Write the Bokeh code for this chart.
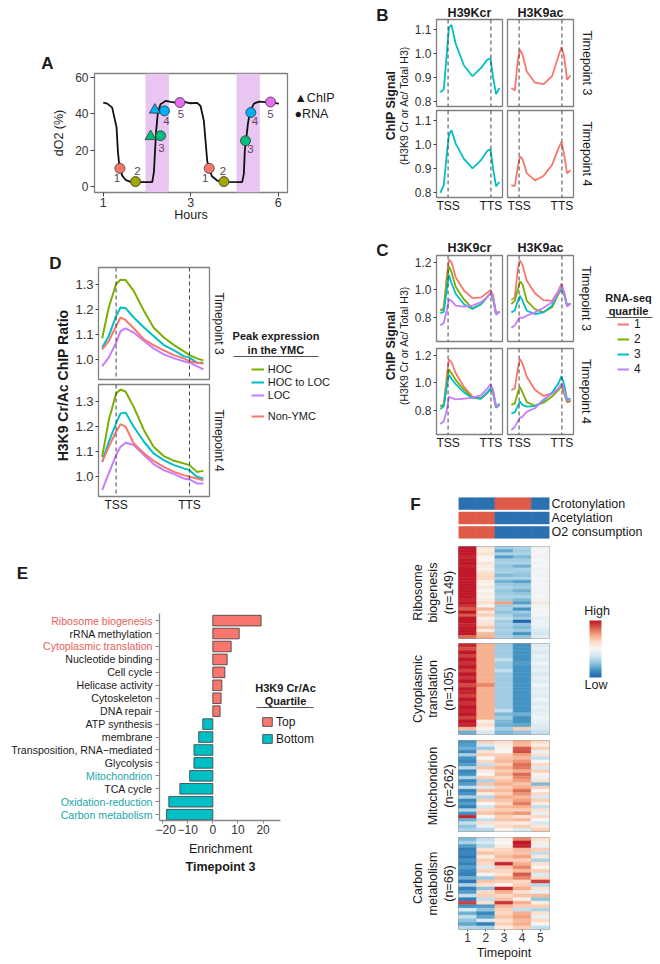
import math
from bokeh.plotting import figure
from bokeh.models import (Range1d, FactorRange, LinearAxis, CategoricalAxis, FixedTicker,
                          Label, LabelSet, Span, BoxAnnotation, Legend, LegendItem,
                          ColumnDataSource, LinearColorMapper, ColorBar, Arrow, PrintfTickFormatter)
from bokeh.layouts import row, column
from bokeh.transform import transform
from bokeh.core.properties import value
from bokeh.embed import file_html
from bokeh.resources import INLINE

FONT = "Liberation Sans"
INK = "#1a1a1a"
TICK_INK = "#333333"
FRAME = "#808080"
NAN = float("nan")

# ======================= DATA =======================
# ---- Panel A (dO2 trace; x = position on the displayed hour axis) ----
A_TICK_POS = [0, 1, 2]
A_TICK_LABELS = ["1", "3", "6"]
A_Y_TICKS = [0, 20, 40, 60]
A_CURVE_X = [0.0, 0.046, 0.102, 0.152, 0.167, 0.183, 0.217, 0.255, 0.312, 0.426, 0.560, 0.579,
             0.590, 0.605, 0.624, 0.655, 0.712, 0.769, 0.845, 0.922, 0.998, 1.074, 1.112, 1.150,
             1.169, 1.188, 1.207, 1.245, 1.302, 1.379, 1.588, 1.607, 1.618, 1.634, 1.653, 1.676,
             1.691, 1.722, 1.779, 1.855, 1.931, 2.007]
A_CURVE_Y = [46.3, 45.7, 43.5, 32.6, 19.8, 11.5, 6.0, 3.7, 2.6, 2.4, 2.4, 7.9,
             17.9, 30.7, 40.8, 45.4, 47.2, 46.6, 46.1, 46.6, 45.9, 46.1, 44.4, 36.2,
             25.2, 14.3, 9.7, 5.5, 3.3, 2.6, 2.4, 7.0, 19.8, 26.2, 34.4, 40.8,
             42.6, 45.7, 46.8, 46.5, 46.3, 45.7]
A_SHADE_START = [0.483, 1.523]
A_SHADE_END = [0.750, 1.790]
A_RNA_X = [0.190, 0.369, 0.655, 0.700, 0.876, 1.211, 1.379, 1.626, 1.687, 1.912]
A_RNA_Y = [10.0, 2.7, 28.0, 41.7, 46.3, 10.0, 2.7, 25.2, 40.8, 46.6]
A_RNA_TP = [1, 2, 3, 4, 5, 1, 2, 3, 4, 5]
A_CHIP_X = [0.541, 0.590]
A_CHIP_Y = [27.6, 42.2]
A_CHIP_TP = [3, 4]
A_LEGEND = ["\u25B2ChIP", "\u25CFRNA"]

# ---- Panels B/C: metagene profiles (x: TSS = 0, TTS = 1) ----
META_MARK_POS = [0, 1]
META_MARK_LABELS = ["TSS", "TTS"]
META_X = [-0.18, -0.10, -0.03, 0.02, 0.08, 0.18, 0.37, 0.57, 0.77, 0.92, 0.99, 1.05, 1.12, 1.20]
TIMEPOINT_STRIPS = ["Timepoint 3", "Timepoint 4"]
B_MARKS = ["H39Kcr", "H3K9ac"]
B_CR_TP3 = [0.838, 0.850, 1.000, 1.110, 1.120, 1.040, 0.950, 0.905, 0.940, 0.975, 0.980, 0.900, 0.830, 0.856]
B_CR_TP4 = [0.797, 0.830, 0.960, 1.040, 1.060, 1.003, 0.940, 0.900, 0.935, 0.975, 0.980, 0.900, 0.825, 0.843]
B_AC_TP3 = [0.856, 0.845, 0.970, 1.016, 0.995, 0.925, 0.878, 0.872, 0.905, 0.990, 1.027, 0.990, 0.890, 0.908]
B_AC_TP4 = [0.830, 0.826, 0.905, 0.950, 0.940, 0.880, 0.850, 0.868, 0.915, 0.985, 1.011, 0.960, 0.879, 0.893]
B_Y_TICKS = [0.8, 0.9, 1.0, 1.1]

C_MARKS = ["H3K9cr", "H3K9ac"]
C_QUARTILES = ["1", "2", "3", "4"]
C_CR_TP3_Q1 = [0.848, 0.870, 1.100, 1.220, 1.200, 1.090, 0.995, 0.940, 0.945, 0.980, 1.000, 0.960, 0.830, 0.840]
C_CR_TP3_Q2 = [0.850, 0.860, 1.060, 1.170, 1.130, 1.020, 0.930, 0.865, 0.895, 0.950, 0.975, 0.940, 0.820, 0.840]
C_CR_TP3_Q3 = [0.830, 0.840, 1.000, 1.110, 1.050, 0.970, 0.895, 0.860, 0.895, 0.950, 0.975, 0.940, 0.820, 0.840]
C_CR_TP3_Q4 = [0.740, 0.760, 0.850, 0.930, 0.920, 0.885, 0.878, 0.885, 0.910, 0.950, 0.975, 0.940, 0.820, 0.840]
C_AC_TP3_Q1 = [0.926, 0.945, 1.150, 1.215, 1.180, 1.067, 0.975, 0.925, 0.920, 0.994, 1.045, 0.985, 0.885, 0.900]
C_AC_TP3_Q2 = [0.897, 0.920, 1.000, 1.062, 1.040, 0.920, 0.860, 0.837, 0.873, 0.970, 1.006, 0.970, 0.885, 0.900]
C_AC_TP3_Q3 = [0.836, 0.850, 0.920, 0.957, 0.920, 0.848, 0.824, 0.836, 0.885, 0.982, 1.018, 0.970, 0.885, 0.900]
C_AC_TP3_Q4 = [0.722, 0.740, 0.780, 0.800, 0.795, 0.812, 0.836, 0.870, 0.909, 0.982, 1.030, 0.982, 0.878, 0.900]
C_CR_TP4_Q1 = [0.830, 0.840, 1.050, 1.170, 1.150, 1.070, 0.970, 0.900, 0.890, 0.930, 0.960, 0.930, 0.820, 0.840]
C_CR_TP4_Q2 = [0.830, 0.840, 1.000, 1.100, 1.070, 1.020, 0.950, 0.890, 0.885, 0.930, 0.955, 0.930, 0.820, 0.840]
C_CR_TP4_Q3 = [0.810, 0.830, 0.970, 1.060, 1.030, 0.990, 0.930, 0.890, 0.885, 0.930, 0.960, 0.930, 0.820, 0.850]
C_CR_TP4_Q4 = [0.700, 0.720, 0.800, 0.900, 0.890, 0.880, 0.885, 0.890, 0.910, 0.960, 0.990, 0.950, 0.830, 0.840]
C_AC_TP4_Q1 = [0.948, 0.960, 1.100, 1.175, 1.140, 1.045, 0.950, 0.905, 0.924, 0.960, 0.977, 0.930, 0.860, 0.870]
C_AC_TP4_Q2 = [0.840, 0.850, 0.930, 0.970, 0.930, 0.860, 0.833, 0.855, 0.900, 0.948, 0.977, 0.930, 0.860, 0.865]
C_AC_TP4_Q3 = [0.778, 0.785, 0.830, 0.863, 0.840, 0.827, 0.830, 0.870, 0.930, 0.996, 1.050, 0.990, 0.880, 0.885]
C_AC_TP4_Q4 = [0.657, 0.680, 0.720, 0.745, 0.754, 0.790, 0.815, 0.880, 0.920, 0.960, 0.996, 0.950, 0.870, 0.875]
C_Y_TICKS = [0.8, 1.0, 1.2]

# ---- Panel D: H3K9 Cr/Ac ratio by YMC peak expression ----
D_X = [-0.19, -0.10, 0.00, 0.06, 0.13, 0.24, 0.38, 0.51, 0.65, 0.79, 0.92, 1.00, 1.10, 1.19]
D_GROUPS = ["HOC", "HOC to LOC", "LOC", "Non-YMC"]
D_TP3_HOC = [1.084, 1.207, 1.300, 1.317, 1.316, 1.273, 1.193, 1.127, 1.087, 1.057, 1.033, 1.017, 1.004, 0.996]
D_TP3_HOC2LOC = [1.047, 1.093, 1.173, 1.207, 1.204, 1.167, 1.127, 1.093, 1.057, 1.036, 1.013, 1.007, 0.987, 0.987]
D_TP3_LOC = [0.973, 1.007, 1.067, 1.113, 1.124, 1.107, 1.073, 1.044, 1.020, 1.004, 0.993, 0.987, 0.973, 0.960]
D_TP3_NONYMC = [1.040, 1.073, 1.133, 1.167, 1.156, 1.124, 1.080, 1.057, 1.036, 1.017, 1.004, 0.993, 0.987, 0.983]
D_TP4_HOC = [1.078, 1.224, 1.330, 1.346, 1.337, 1.277, 1.184, 1.118, 1.081, 1.062, 1.052, 1.045, 1.018, 1.022]
D_TP4_HOC2LOC = [1.058, 1.138, 1.211, 1.251, 1.254, 1.198, 1.138, 1.092, 1.065, 1.045, 1.032, 1.025, 0.999, 0.992]
D_TP4_LOC = [0.945, 1.012, 1.085, 1.118, 1.134, 1.125, 1.085, 1.049, 1.025, 1.009, 0.992, 0.988, 0.972, 0.972]
D_TP4_NONYMC = [1.058, 1.118, 1.178, 1.208, 1.198, 1.131, 1.092, 1.062, 1.038, 1.018, 1.005, 0.999, 0.992, 0.985]
D_Y_TICKS = [1.0, 1.1, 1.2, 1.3]

# ---- Panel E: GO enrichment ----
E_TERMS = ["Ribosome biogenesis", "rRNA methylation", "Cytoplasmic translation", "Nucleotide binding",
           "Cell cycle", "Helicase activity", "Cytoskeleton", "DNA repair", "ATP synthesis", "membrane",
           "Transposition, RNA\u2212mediated", "Glycolysis", "Mitochondrion", "TCA cycle",
           "Oxidation-reduction", "Carbon metabolism"]
E_ENRICH = [19.2, 10.5, 7.3, 5.7, 4.8, 3.6, 3.3, 2.9, -4.0, -5.6, -7.5, -7.5, -9.2, -13.1, -17.5, -18.4]
E_QUARTILE = ["Top"] * 8 + ["Bottom"] * 8
E_HIGHLIGHT = ["up", "", "up", "", "", "", "", "", "", "", "", "", "down", "", "down", "down"]
E_X_TICKS = [-20, -10, 0, 10, 20]

# ---- Panel F: heatmap (rows top to bottom, columns = timepoints 1..5) ----
F_TIMEPOINTS = [1, 2, 3, 4, 5]
F_ANNOT_NAMES = ["Crotonylation", "Acetylation", "O2 consumption"]
F_ANNOT_CROT = [0, 0, 1, 1, 0]
F_ANNOT_ACET = [1, 1, 0, 0, 0]
F_ANNOT_O2 = [1, 1, 0, 0, 0]
F_BLOCK_NAMES = ["Ribosome biogenesis", "Cytoplasmic translation", "Mitochondrion", "Carbon metabolism"]
F_BLOCK_N = [149, 105, 262, 66]
F_RIBO = [
    [1.00, 0.15, -0.45, -0.40, -0.05], [1.00, 0.10, -0.65, -0.45, -0.03], [1.00, 0.20, -0.40, -0.40, 0.03],
    [0.95, 0.05, -0.70, -0.55, -0.05], [1.00, 0.00, -0.45, -0.45, -0.02], [1.00, 0.15, -0.40, -0.40, -0.05],
    [0.95, 0.10, -0.50, -0.60, 0.00], [1.00, 0.05, -0.45, -0.40, -0.05], [1.00, 0.20, -0.40, -0.45, -0.03],
    [1.00, 0.25, -0.55, -0.50, -0.05], [1.00, 0.25, -0.40, -0.40, -0.02], [1.00, 0.10, -0.60, -0.70, -0.05],
    [1.00, 0.05, -0.45, -0.50, -0.03], [1.00, 0.15, -0.40, -0.45, -0.05], [1.00, 0.00, -0.50, -0.60, -0.04],
    [1.00, 0.10, -0.45, -0.50, -0.05], [1.00, 0.05, -0.40, -0.40, -0.03], [0.95, 0.10, -0.45, -0.55, -0.05],
    [1.00, 0.20, 0.50, -0.70, 0.15], [0.90, 0.05, -0.45, -0.40, -0.05], [0.75, 0.40, -0.40, -0.75, 0.00],
    [1.00, 0.15, -0.50, -0.45, -0.05], [0.75, 0.30, -0.40, -0.55, -0.03], [1.00, 0.05, -0.30, -0.45, -0.10],
    [1.00, 0.15, -0.45, -1.00, -0.05], [0.95, 0.20, -0.40, -0.50, -0.05], [1.00, 0.35, -0.45, -0.55, -0.10],
    [1.00, 0.10, -0.40, -0.45, -0.20], [1.00, 0.40, -0.45, -0.75, -0.25], [0.70, 0.45, -0.40, -0.50, -0.15],
]
F_CYTO = [
    [0.95, 0.45, -0.45, -0.75, -0.15], [0.80, 0.45, -0.45, -0.75, -0.10], [1.00, 0.45, -0.45, -0.75, -0.20],
    [0.85, 0.45, -0.45, -0.75, -0.10], [1.00, 0.45, -0.30, -0.75, -0.15], [0.90, 0.45, -0.45, -0.70, -0.05],
    [1.00, 0.45, -0.45, -0.75, -0.15], [0.85, 0.45, -0.30, -0.75, -0.10], [1.00, 0.45, -0.45, -0.75, -0.20],
    [0.90, 0.45, -0.45, -0.75, -0.10], [1.00, 0.45, -0.45, -0.75, -0.15], [0.80, 0.60, -0.45, -0.75, -0.05],
    [1.00, 0.45, -0.45, -0.75, -0.15], [0.95, 0.45, -0.45, -0.75, -0.10], [0.85, 0.45, -0.45, -0.75, -0.15],
    [1.00, 0.45, -0.45, -0.75, -0.05], [0.90, 0.45, -0.45, -0.75, -0.15], [1.00, 0.45, -0.45, -0.75, -0.10],
    [0.95, 0.45, -0.30, -0.75, -0.15], [1.00, 0.45, -0.55, -0.60, -0.10], [0.85, 0.45, -0.45, -0.75, -0.05],
    [1.00, 0.10, -0.55, -0.75, -0.10], [0.95, 0.20, -0.60, -0.65, -0.15], [0.40, 0.05, -0.45, 0.30, -0.20],
    [-0.60, -0.20, -0.55, -0.50, -0.30],
]
F_MITO = [
    [-0.75, 0.30, 0.20, 0.45, 0.25], [-0.70, -0.20, 0.10, 0.40, 0.10], [-0.60, -0.45, 0.05, 0.75, 0.30],
    [-0.80, 0.20, 0.00, 0.80, -0.10], [-0.40, 0.30, 0.30, 0.50, 0.20], [-0.75, 0.00, 0.35, 0.40, -0.30],
    [-0.80, 0.25, 0.40, 0.55, 0.00], [-0.70, -0.30, 0.30, 0.70, 0.25], [-0.35, 0.35, 0.45, 0.65, -0.20],
    [-0.80, 0.10, 0.30, 0.45, 0.30], [-0.75, 0.00, 0.40, 0.70, 0.05], [-0.40, 0.30, 0.25, 0.60, -0.10],
    [-0.80, -0.40, 0.35, 0.50, 0.20], [-0.70, 0.35, 0.45, 0.35, -0.55], [-0.30, -0.20, 0.30, 0.45, 0.30],
    [-0.85, 0.40, 0.40, 0.70, 0.00], [-0.75, 0.10, 0.30, 0.55, 0.25], [-0.40, -0.35, 0.45, 0.40, -0.20],
    [-0.80, 0.30, 0.35, 0.50, 0.30], [-0.70, 0.00, 0.25, 0.65, 0.10], [-0.85, -0.25, 0.40, 0.45, -0.30],
    [-0.35, 0.25, 0.30, 0.30, 0.20], [-0.75, 0.35, 0.45, 0.55, -0.10], [0.95, 0.00, 0.30, 0.20, 0.25],
    [-0.60, -0.30, 0.35, 0.40, 0.00], [-0.30, 0.20, 0.15, 0.10, -0.20], [-0.50, -0.10, 0.25, 0.30, 0.15],
    [-0.40, -0.35, 0.05, -0.20, 0.30],
]
F_CARB = [
    [-0.55, -0.30, 0.05, 0.60, 0.20], [-0.40, -0.20, 0.00, 1.00, 0.10], [-0.70, -0.35, 0.10, 0.95, -0.10],
    [-0.85, 0.20, 0.25, 0.40, 0.30], [-0.80, 0.35, 0.30, 0.35, -0.30], [-0.90, 0.10, 0.40, 0.50, 0.15],
    [-0.75, 0.30, 0.30, 0.30, -0.40], [-0.85, 0.25, 0.95, 0.45, 0.20], [-0.70, -0.20, 0.35, 0.60, 0.05],
    [-0.80, 0.30, 0.25, 0.40, 0.30], [-0.85, 0.00, 0.20, 0.75, -0.20], [-0.60, -0.45, 0.40, 0.60, 0.25],
    [-0.90, 0.35, 0.30, 0.25, 0.85], [-0.40, 0.20, 0.05, 0.30, -0.35], [-0.85, -0.50, 0.95, 0.45, 0.20],
    [-0.70, 0.25, 0.45, 0.20, -0.10], [-0.30, 0.30, 0.25, 0.35, 0.40], [-0.85, -0.30, 0.35, 0.10, -0.50],
    [0.85, 0.20, 0.90, 0.45, 0.10], [-0.75, -0.70, 0.40, 0.30, 0.30], [-0.20, -0.50, 0.30, -0.30, -0.40],
    [-0.60, -0.80, 0.25, 0.45, 0.20], [-0.30, -0.65, 0.35, 0.50, -0.10], [-0.50, -0.20, 0.20, 0.40, 0.25],
    [-0.65, -0.85, 0.30, 0.45, 0.00], [-0.35, -0.40, 0.10, 0.30, -0.30],
]

# ======================= STYLE =======================
TP_COLORS = ["#F8766D", "#A3A500", "#00BF7D", "#00B0F6", "#E76BF3"]
NUM_COLORS = ["#4d4d4d", "#4d4d4d", "#6e3f6e", "#6e3f6e", "#6e3f6e"]
A_NUM_DX = [-3, 2, 1, 2, 1, -4, -1, 5, 4, 0]
A_NUM_DY = [10, -11, 12, 10, 11, 10, -11, 8, 8, 12]
HUE2 = ["#00BFC4", "#F8766D"]
HUE4 = ["#F8766D", "#7CAE00", "#00BFC4", "#C77CFF"]
D_COLORS = ["#7CAE00", "#00BFC4", "#C77CFF", "#F8766D"]
E_BAR_COLORS = {"Top": "#F8766D", "Bottom": "#00BFC4"}
E_TXT = {"up": "#e8605a", "down": "#1aa7a7", "": INK}
HEAT_ANCHORS = ["#2166ac", "#4393c3", "#92c5de", "#d1e5f0", "#f7f7f7",
                "#fddbc7", "#f4a582", "#d6604d", "#c0182a"]
ANNOT_COLORS = ["#2b70b1", "#df5b47"]


def interp_palette(anchors, n=128):
    def h2r(h):
        return [int(h[i:i + 2], 16) for i in (1, 3, 5)]
    rgb = [h2r(a) for a in anchors]
    out = []
    for k in range(n):
        t = k / (n - 1) * (len(rgb) - 1)
        i = min(int(t), len(rgb) - 2)
        f = t - i
        c = [round(rgb[i][j] + (rgb[i + 1][j] - rgb[i][j]) * f) for j in range(3)]
        out.append("#%02x%02x%02x" % tuple(c))
    return out


HEAT_MAPPER = LinearColorMapper(palette=interp_palette(HEAT_ANCHORS), low=-1, high=1)
ANNOT_MAPPER = LinearColorMapper(palette=ANNOT_COLORS, low=0, high=1)


# ======================= HELPERS =======================
class Panel:
    """A figure on the page: box = canvas (x0,y0,x1,y1), frame = plot area, in page pixels."""

    def __init__(self, box, frame=None, xr=(0, 1), yr=(0, 1), yfactors=None):
        frame = frame or box
        self.box, self.frame, self.xr, self.yr = box, frame, xr, yr
        x0, y0, x1, y1 = box
        fl, ft, fr, fb = frame
        y_range = FactorRange(factors=yfactors) if yfactors else Range1d(start=yr[0], end=yr[1])
        p = figure(width=x1 - x0, height=y1 - y0,
                   x_range=Range1d(start=xr[0], end=xr[1]), y_range=y_range,
                   x_axis_location=None, y_axis_location=None,
                   min_border_left=fl - x0, min_border_right=x1 - fr,
                   min_border_top=ft - y0, min_border_bottom=y1 - fb,
                   toolbar_location=None, output_backend="svg")
        p.xgrid.visible = False
        p.ygrid.visible = False
        p.outline_line_color = None
        self.p = p

    def to_data(self, sx, sy):
        fl, ft, fr, fb = self.frame
        x = self.xr[0] + (sx - fl) / (fr - fl) * (self.xr[1] - self.xr[0])
        y = self.yr[0] + (fb - sy) / (fb - ft) * (self.yr[1] - self.yr[0])
        return x, y

    def text(self, sx, sy, s, size=12, bold=False, color=INK, angle=0.0, align="center"):
        x, y = self.to_data(sx, sy)
        self.p.add_layout(Label(x=x, y=y, text=s, text_font=FONT, text_font_size=f"{size}px",
                                text_font_style="bold" if bold else "normal", text_color=color,
                                angle=angle, text_align=align, text_baseline="middle"))

    def hline(self, sx0, sx1, sy, color="#555555", width=1.2):
        xa, ya = self.to_data(sx0, sy)
        xb, yb = self.to_data(sx1, sy)
        self.p.add_layout(Arrow(end=None, x_start=xa, y_start=ya, x_end=xb, y_end=yb,
                                line_color=color, line_width=width))


def style_axis(ax, size=12, tick_out=3, standoff=2, line=None, tick_color="#444444"):
    ax.major_label_text_font = FONT
    ax.major_label_text_font_size = f"{size}px"
    ax.major_label_text_color = TICK_INK
    ax.major_tick_out = tick_out
    ax.major_tick_in = 0
    ax.major_tick_line_color = tick_color
    ax.minor_tick_line_color = None
    ax.axis_line_color = line
    ax.major_label_standoff = standoff
    ax.axis_label_text_font = FONT
    ax.axis_label_text_font_style = "normal"
    ax.axis_label_text_color = INK
    return ax


def meta_facet(box, frame, xr, yr, xs, series, colors, yticks=None, bottom=False,
               xlabel_size=12, tick_size=12, width=1.8):
    P = Panel(box, frame, xr=xr, yr=yr)
    p = P.p
    p.outline_line_color = FRAME
    p.outline_line_width = 1.3
    for ys, c in zip(series, colors):
        p.line(x=xs, y=ys, line_color=c, line_width=width)
    for pos in META_MARK_POS:
        p.add_layout(Span(location=pos, dimension="height", line_color="#444444",
                          line_width=1, line_dash="4 3"))
    if yticks:
        ax = style_axis(LinearAxis(ticker=FixedTicker(ticks=yticks),
                                   formatter=PrintfTickFormatter(format="%.1f")),
                        size=tick_size, tick_out=3, standoff=2)
        p.add_layout(ax, "left")
    if bottom:
        ax = LinearAxis(ticker=FixedTicker(ticks=META_MARK_POS),
                        major_label_overrides=dict(zip(META_MARK_POS, META_MARK_LABELS)))
        style_axis(ax, size=xlabel_size, tick_out=0, standoff=1)
        ax.major_label_text_color = INK
        p.add_layout(ax, "below")
    return P


def line_legend(P, names, colors, loc, font="11px", standoff=4, glyph_w=13):
    items = []
    for g, c in zip(names, colors):
        r = P.p.line(x=[NAN], y=[NAN], line_color=c, line_width=2)
        items.append(LegendItem(label=g, renderers=[r]))
    P.p.add_layout(Legend(items=items, location=loc, glyph_width=glyph_w, glyph_height=12,
                          label_height=12, label_standoff=standoff, spacing=1, padding=0, margin=0,
                          border_line_color=None, background_fill_alpha=0,
                          label_text_font=FONT, label_text_font_size=font, label_text_color=INK))


# ======================= PANEL A =======================
Atop = Panel((0, 0, 368, 72))
Atop.text(47, 63, "A", size=17, bold=True)
A = Panel((0, 72, 290, 240), (94, 73, 287, 192), xr=(-0.1, 2.106), yr=(-3.3, 62.3))
pa = A.p
pa.outline_line_color = FRAME
pa.outline_line_width = 1.3
for s, e in zip(A_SHADE_START, A_SHADE_END):
    pa.add_layout(BoxAnnotation(left=s, right=e, fill_color="#e8c6f1", fill_alpha=1.0,
                                line_color=None, level="underlay"))
pa.line(A_CURVE_X, A_CURVE_Y, line_color="#111111", line_width=1.8)
pa.scatter(A_CHIP_X, A_CHIP_Y, marker="triangle", size=11,
           fill_color=[TP_COLORS[t - 1] for t in A_CHIP_TP], line_color="#333333", line_width=0.8)
pa.scatter(A_RNA_X, A_RNA_Y, marker="circle", size=10,
           fill_color=[TP_COLORS[t - 1] for t in A_RNA_TP], line_color="#333333", line_width=0.8)
pa.text(x=A_RNA_X, y=A_RNA_Y, text=[str(t) for t in A_RNA_TP], x_offset=A_NUM_DX, y_offset=A_NUM_DY,
        text_color=[NUM_COLORS[t - 1] for t in A_RNA_TP], text_font=value(FONT),
        text_font_size=value("11.5px"), text_align="center", text_baseline="middle")
ya = style_axis(LinearAxis(ticker=FixedTicker(ticks=A_Y_TICKS), axis_label="dO2 (%)"),
                size=12, tick_out=4, standoff=2)
ya.axis_label_text_font_size = "12.5px"
ya.axis_label_standoff = 6
pa.add_layout(ya, "left")
xa = style_axis(LinearAxis(ticker=FixedTicker(ticks=A_TICK_POS),
                           major_label_overrides=dict(zip(A_TICK_POS, A_TICK_LABELS)),
                           axis_label="Hours"), size=12.5, tick_out=4, standoff=1)
xa.axis_label_text_font_size = "12.5px"
xa.axis_label_standoff = -2
pa.add_layout(xa, "below")
Aleg = Panel((290, 72, 368, 240), (290, 73, 368, 192))
Aleg.text(294, 97, A_LEGEND[0], size=12.5, align="left")
Aleg.text(294, 113, A_LEGEND[1], size=12.5, align="left")
A_block = column(Atop.p, row(A.p, Aleg.p))

# ======================= PANEL D =======================
DXR = (-0.24, 1.273)
DYR = (0.92, 1.366)
Dlab = Panel((0, 240, 70, 540))
Dlab.text(55, 263, "D", size=17, bold=True)
Dlab.text(62, 385, "H3K9 Cr/Ac ChIP Ratio", size=14, bold=True, angle=math.pi / 2)
DT = meta_facet((70, 240, 211, 381), (98, 267, 209, 379), DXR, DYR, D_X,
                [D_TP3_HOC, D_TP3_HOC2LOC, D_TP3_LOC, D_TP3_NONYMC], D_COLORS, D_Y_TICKS,
                tick_size=13, width=2)
DB = meta_facet((70, 381, 211, 540), (98, 384, 209, 496), DXR, DYR, D_X,
                [D_TP4_HOC, D_TP4_HOC2LOC, D_TP4_LOC, D_TP4_NONYMC], D_COLORS, D_Y_TICKS,
                bottom=True, tick_size=13, width=2)
Dside = Panel((211, 240, 368, 540))
Dside.text(218, 323, TIMEPOINT_STRIPS[0], size=12, angle=-math.pi / 2)
Dside.text(218, 440, TIMEPOINT_STRIPS[1], size=12, angle=-math.pi / 2)
Dside.text(275.5, 335, "Peak expression", size=11, bold=True)
Dside.text(275.5, 349.5, "in the YMC", size=11, bold=True)
Dside.hline(233, 318, 356)
line_legend(Dside, D_GROUPS[:3], D_COLORS[:3], (39.7, 138.8))
line_legend(Dside, D_GROUPS[3:], D_COLORS[3:], (39.7, 118.5))
D_block = row(Dlab.p, column(DT.p, DB.p), Dside.p)

# ======================= PANEL E =======================
EYR = (len(E_TERMS) - 0.55, -0.55)
E_PX_PER_UNIT = 2.515
E_XR = (-21.2, -21.2 + (368 - 159) / E_PX_PER_UNIT)
Etop = Panel((0, 540, 368, 590))
Etop.text(22, 573, "E", size=17, bold=True)
E = Panel((155, 590, 368, 840), (159, 613, 368, 820), xr=E_XR, yr=EYR)
pe = E.p
e_idx = list(range(len(E_TERMS)))
e_renderers = {}
for grp in ["Top", "Bottom"]:
    ids = [i for i in e_idx if E_QUARTILE[i] == grp]
    src = ColumnDataSource(dict(y=ids, right=[E_ENRICH[i] for i in ids]))
    e_renderers[grp] = pe.hbar(y="y", left=0, right="right", height=0.82, source=src,
                               fill_color=E_BAR_COLORS[grp], line_color="#3a3a3a", line_width=0.8)
ex = style_axis(LinearAxis(ticker=FixedTicker(ticks=E_X_TICKS), bounds=(-21.2, 26.9)),
                size=12, tick_out=3, standoff=1, line="#888888", tick_color="#888888")
ex.axis_line_width = 1.3
pe.add_layout(ex, "below")
ey = style_axis(LinearAxis(ticker=FixedTicker(ticks=e_idx),
                           major_label_overrides={i: "" for i in e_idx}),
                size=11, tick_out=4, standoff=0, line="#888888", tick_color="#888888")
ey.axis_line_width = 1.3
pe.add_layout(ey, "left")
E.text(285, 687, "H3K9 Cr/Ac", size=11, bold=True)
E.text(285, 700.5, "Quartile", size=11, bold=True)
E.hline(256, 313, 707)
pe.add_layout(Legend(items=[LegendItem(label="Top", renderers=[e_renderers["Top"]]),
                            LegendItem(label="Bottom", renderers=[e_renderers["Bottom"]])],
                     location=(102, 74.3), glyph_width=12, glyph_height=11, label_height=11,
                     label_standoff=3, spacing=3, padding=0, margin=0, border_line_color=None,
                     background_fill_alpha=0, label_text_font=FONT, label_text_font_size="12px",
                     label_text_color=INK))
Elab = Panel((0, 590, 155, 840), (0, 613, 155, 820), xr=(0, 1), yr=EYR)
lab_src = ColumnDataSource(dict(y=e_idx, text=E_TERMS, color=[E_TXT[h] for h in E_HIGHLIGHT]))
Elab.p.add_layout(LabelSet(x=1, y="y", text="text", text_color="color", source=lab_src, x_offset=-3,
                           text_align="right", text_baseline="middle", text_font=value(FONT),
                           text_font_size=value("10.6px")))
Ebot = Panel((0, 840, 368, 964))
Ebot.text(220, 848, "Enrichment", size=12.5)
Ebot.text(220, 866, "Timepoint 3", size=12.5, bold=True)
E_block = column(Etop.p, row(Elab.p, E.p), Ebot.p)

# ======================= PANEL B =======================
META_XR = (-0.27, 1.27)
BYR = (0.778, 1.143)
Blab = Panel((368, 0, 410, 240))
Blab.text(382, 15, "B", size=17, bold=True)
Blab.text(390, 105, "ChIP Signal", size=12.5, bold=True, angle=math.pi / 2)
Blab.text(403, 105, "(H3K9 Cr or Ac/ Total H3)", size=10.5, angle=math.pi / 2)
Bhead = Panel((410, 0, 575, 18))
Bhead.text(469, 12, B_MARKS[0], size=12.5, bold=True)
Bhead.text(540, 12, B_MARKS[1], size=12.5, bold=True)
BTL = meta_facet((410, 18, 504, 108), (436, 19, 502, 106), META_XR, BYR, META_X, [B_CR_TP3], [HUE2[0]], B_Y_TICKS)
BTR = meta_facet((504, 18, 575, 108), (507, 19, 573, 106), META_XR, BYR, META_X, [B_AC_TP3], [HUE2[1]])
BBL = meta_facet((410, 108, 504, 240), (436, 110, 502, 197), META_XR, BYR, META_X, [B_CR_TP4], [HUE2[0]],
                 B_Y_TICKS, bottom=True)
BBR = meta_facet((504, 108, 575, 240), (507, 110, 573, 197), META_XR, BYR, META_X, [B_AC_TP4], [HUE2[1]],
                 bottom=True)
Bside = Panel((575, 0, 660, 240))
Bside.text(586, 62.5, TIMEPOINT_STRIPS[0], size=12.5, angle=-math.pi / 2)
Bside.text(586, 153.5, TIMEPOINT_STRIPS[1], size=12.5, angle=-math.pi / 2)
B_block = row(Blab.p, column(Bhead.p, row(BTL.p, BTR.p), row(BBL.p, BBR.p)), Bside.p)

# ======================= PANEL C =======================
CYR = (0.624, 1.25)
Clab = Panel((368, 240, 410, 470))
Clab.text(382, 249.5, "C", size=17, bold=True)
Clab.text(390, 345, "ChIP Signal", size=12.5, bold=True, angle=math.pi / 2)
Clab.text(403, 345, "(H3K9 Cr or Ac/ Total H3)", size=10.5, angle=math.pi / 2)
Chead = Panel((410, 240, 575, 254))
Chead.text(469, 247.5, C_MARKS[0], size=12.5, bold=True)
Chead.text(540, 247.5, C_MARKS[1], size=12.5, bold=True)
CTL = meta_facet((410, 254, 504, 344), (436, 255, 502, 341), META_XR, CYR, META_X,
                 [C_CR_TP3_Q1, C_CR_TP3_Q2, C_CR_TP3_Q3, C_CR_TP3_Q4], HUE4, C_Y_TICKS)
CTR = meta_facet((504, 254, 575, 344), (507, 255, 573, 341), META_XR, CYR, META_X,
                 [C_AC_TP3_Q1, C_AC_TP3_Q2, C_AC_TP3_Q3, C_AC_TP3_Q4], HUE4)
CBL = meta_facet((410, 344, 504, 470), (436, 348, 502, 434), META_XR, CYR, META_X,
                 [C_CR_TP4_Q1, C_CR_TP4_Q2, C_CR_TP4_Q3, C_CR_TP4_Q4], HUE4, C_Y_TICKS, bottom=True)
CBR = meta_facet((504, 344, 575, 470), (507, 348, 573, 434), META_XR, CYR, META_X,
                 [C_AC_TP4_Q1, C_AC_TP4_Q2, C_AC_TP4_Q3, C_AC_TP4_Q4], HUE4, bottom=True)
Cside = Panel((575, 240, 660, 470))
Cside.text(585, 298, TIMEPOINT_STRIPS[0], size=12.5, angle=-math.pi / 2)
Cside.text(585, 391, TIMEPOINT_STRIPS[1], size=12.5, angle=-math.pi / 2)
Cside.text(628, 297, "RNA-seq", size=11, bold=True)
Cside.text(628, 310.5, "quartile", size=11, bold=True)
Cside.hline(606, 652, 317)
line_legend(Cside, C_QUARTILES, HUE4, (42, 94.2), font="12px", standoff=5, glyph_w=12)
C_block = row(Clab.p, column(Chead.p, row(CTL.p, CTR.p), row(CBL.p, CBR.p)), Cside.p)

# ======================= PANEL F =======================
Flab = Panel((368, 470, 456, 541), (368, 496, 456, 539))
Flab.text(415, 504, "F", size=17, bold=True)
Fan = Panel((456, 470, 660, 541), (458, 496, 549, 539), xr=(0.5, 5.5), yr=(0, 3),
            yfactors=list(reversed(F_ANNOT_NAMES)))
an_x, an_y, an_v = [], [], []
for name, vals in zip(F_ANNOT_NAMES, [F_ANNOT_CROT, F_ANNOT_ACET, F_ANNOT_O2]):
    for t, v in zip(F_TIMEPOINTS, vals):
        an_x.append(t)
        an_y.append(name)
        an_v.append(v)
Fan.p.rect(x="x", y="y", width=1, height=0.82, source=ColumnDataSource(dict(x=an_x, y=an_y, v=an_v)),
           fill_color=transform("v", ANNOT_MAPPER), line_color=transform("v", ANNOT_MAPPER), line_width=0.6)
fax = CategoricalAxis()
style_axis(fax, size=12.5, tick_out=0, standoff=2, tick_color=None)
fax.major_label_text_color = INK
Fan.p.add_layout(fax, "right")
F_top = row(Flab.p, Fan.p)

block_boxes = [((456, 541, 575, 640), (458, 546, 549, 638)),
               ((456, 640, 575, 737), (458, 643, 549, 734)),
               ((456, 737, 575, 834), (458, 740, 549, 831)),
               ((456, 834, 575, 964), (458, 837, 549, 929))]
Fblab = Panel((368, 541, 456, 964))
blocks = []
for k, (rows_, name, n, (box, frame)) in enumerate(zip([F_RIBO, F_CYTO, F_MITO, F_CARB], F_BLOCK_NAMES,
                                                       F_BLOCK_N, block_boxes)):
    P = Panel(box, frame, xr=(0.5, 5.5), yr=(len(rows_), 0))
    P.p.outline_line_color = "#9a9a9a"
    P.p.outline_line_width = 1
    hx, hy, hv = [], [], []
    for i, r in enumerate(rows_):
        for t, v in zip(F_TIMEPOINTS, r):
            hx.append(t)
            hy.append(i + 0.5)
            hv.append(v)
    P.p.rect(x="x", y="y", width=1, height=1, source=ColumnDataSource(dict(x=hx, y=hy, v=hv)),
             fill_color=transform("v", HEAT_MAPPER), line_color=transform("v", HEAT_MAPPER), line_width=0.6)
    lines = name.split(" ") + [f"(n={n})"]
    cy = (frame[1] + frame[3]) / 2
    for j, ln in enumerate(lines):
        Fblab.text(448 - 15.5 * (len(lines) - 1 - j), cy, ln, size=12.5, angle=math.pi / 2)
    if k == 3:
        fx = style_axis(LinearAxis(ticker=FixedTicker(ticks=F_TIMEPOINTS), axis_label="Timepoint"),
                        size=12, tick_out=2, standoff=1, tick_color="#666666")
        fx.axis_label_text_font_size = "12.5px"
        fx.axis_label_standoff = 1
        P.p.add_layout(fx, "below")
    blocks.append(P)

Fcb = Panel((575, 541, 660, 964))
Fcb.p.add_layout(ColorBar(color_mapper=HEAT_MAPPER, location=(14, 287), width=12, height=57,
                          orientation="vertical", ticker=FixedTicker(ticks=[]), padding=0, margin=0,
                          major_tick_line_color=None, minor_tick_line_color=None,
                          major_tick_out=0, major_tick_in=0, minor_tick_out=0, minor_tick_in=0,
                          major_label_text_alpha=0, bar_line_color=None,
                          border_line_color=None, background_fill_color=None, label_standoff=0))
Fcb.text(596.5, 610, "High", size=12.5)
Fcb.text(595.5, 684.5, "Low", size=12.5)
F_block = column(F_top, row(Fblab.p, column(*[b.p for b in blocks]), Fcb.p))

# ======================= PAGE =======================
left_col = column(A_block, D_block, E_block)
right_col = column(B_block, C_block, F_block)
page = row(left_col, right_col)

with open("out.html", "w") as f:
    f.write(file_html(page, INLINE, title="ChIP and expression figure"))
